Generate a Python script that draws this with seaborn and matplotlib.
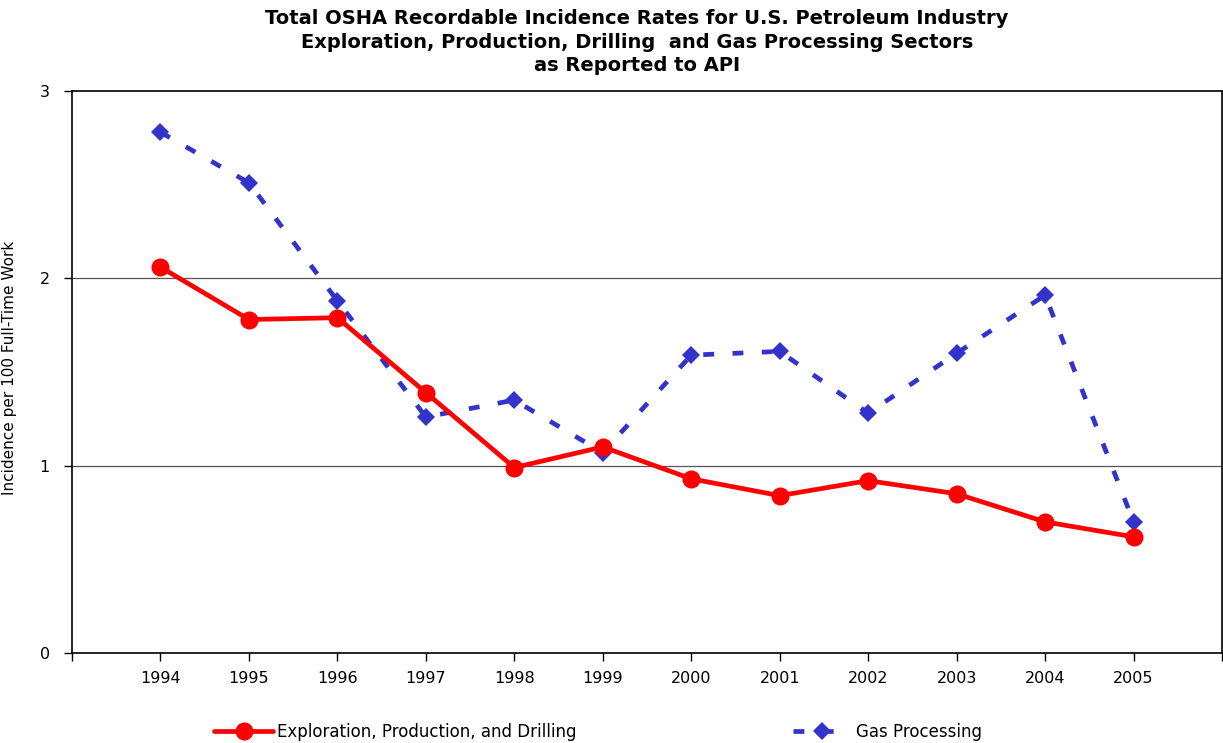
import numpy as np
import pandas as pd
import matplotlib
matplotlib.use("Agg")
import matplotlib.pyplot as plt
import seaborn as sns

years = ["1994", "1995", "1996", "1997", "1998", "1999",
         "2000", "2001", "2002", "2003", "2004", "2005"]
epd = [2.06, 1.78, 1.79, 1.39, 0.99, 1.10, 0.93, 0.84, 0.92, 0.85, 0.70, 0.62]
gas = [2.78, 2.51, 1.88, 1.26, 1.35, 1.07, 1.59, 1.61, 1.28, 1.60, 1.91, 0.70]

epd_label = "Exploration, Production, and Drilling"
gas_label = "Gas Processing"

df = pd.DataFrame({"pos": np.arange(len(years)), "year": years,
                   "epd": epd, "gas": gas})

sns.set_style("white")
plt.rcParams["font.family"] = ["DejaVu Sans"]
plt.rcParams["text.color"] = "black"
plt.rcParams["xtick.color"] = "black"
plt.rcParams["ytick.color"] = "black"
plt.rcParams["axes.labelcolor"] = "black"

fig = plt.figure(figsize=(12.23, 7.43), dpi=100)
ax = fig.add_axes([72 / 1223, 1 - 653 / 743, 1150 / 1223, 562 / 743])

sns.lineplot(data=df, x="pos", y="gas", ax=ax, color="#3333CC",
             linewidth=3.4, marker="D", markersize=9, markeredgewidth=0,
             label=gas_label, zorder=2)
ax.lines[-1].set_dashes([2.3, 3.9])
sns.lineplot(data=df, x="pos", y="epd", ax=ax, color="#FF0000",
             linewidth=3.4, marker="o", markersize=13, markeredgewidth=0,
             label=epd_label, zorder=3)

ax.set_xlim(-1, len(years))
ax.set_ylim(0, 3)
ax.set_xticks(np.arange(-1, len(years) + 1))
ax.set_xticklabels([""] + years + [""])
ax.set_yticks([0, 1, 2, 3])
ax.set_yticklabels(["0", "1", "2", "3"])
ax.tick_params(axis="both", direction="out", length=6, width=1,
               color="black", labelsize=11.5, bottom=True, left=True)
ax.tick_params(axis="x", pad=7)
ax.tick_params(axis="y", pad=10)
for y in [1, 2]:
    ax.axhline(y, color="#555555", linewidth=0.9, zorder=1)
for s in ax.spines.values():
    s.set_color("black")
    s.set_linewidth(1.2)
    s.set_visible(True)

ax.set_xlabel("")
ax.set_ylabel("Incidence per 100 Full-Time Work", fontsize=11)
ax.yaxis.set_label_coords(-0.048, 0.507)

fig.text(637 / 1223, 1 - 9 / 743,
         "Total OSHA Recordable Incidence Rates for U.S. Petroleum Industry\n"
         "Exploration, Production, Drilling  and Gas Processing Sectors\n"
         "as Reported to API",
         ha="center", va="top", fontsize=14, fontweight="bold",
         linespacing=1.3)

ax.get_legend().remove()
h, l = ax.get_legend_handles_labels()
order = [l.index(epd_label), l.index(gas_label)]
fig.legend([h[i] for i in order], [l[i] for i in order],
           loc="center", bbox_to_anchor=(0.489, 1 - 732 / 743), ncol=2,
           frameon=False, fontsize=12, handlelength=3.5, handletextpad=0.25,
           columnspacing=13)

fig.savefig("out.png", dpi=100)
